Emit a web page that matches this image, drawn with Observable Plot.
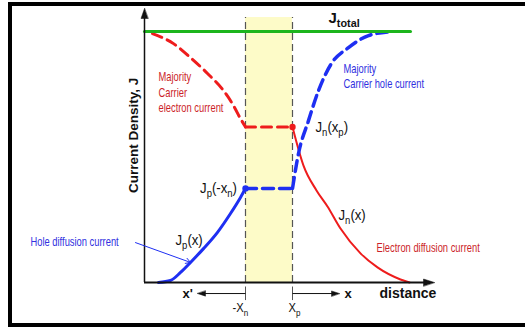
<!DOCTYPE html>
<html>
<head>
<meta charset="utf-8">
<script src="https://cdn.jsdelivr.net/npm/d3@7"></script>
<script src="https://cdn.jsdelivr.net/npm/@observablehq/plot@0.6"></script>
<style>
  body { margin: 0; background: #fff; }
</style>
</head>
<body>
<div id="chart"></div>
<script>
// Edges of the depletion region (distance units) and current levels (J units)
const xnEdge = 10.1;        // -xn
const xpEdge = 14.8;        // xp
const Jtotal = 10;
const JnDepletion = 6.2;    // Jn(xp)
const JpDepletion = 3.75;   // Jp(-xn)
const xEnd = 29;            // end of the distance axis
const yTop = 10.92;         // end of the current axis
const bandTop = 10.56;

// Majority carrier electron current, n side (dashed red)
const nMajorityX = [0.8, 2.9, 4.6, 6.3, 7.9, 8.9, 9.6, 10.1];
const nMajorityJ = [9.92, 9.52, 8.96, 8.33, 7.65, 7.05, 6.53, 6.2];
// Hole diffusion current, n side (solid blue)
const holeDiffX = [1.4, 2.6, 3.6, 4.6, 5.9, 7.3, 8.6, 9.6, 10.1];
const holeDiffJ = [0, 0.08, 0.4, 0.8, 1.35, 2.0, 2.75, 3.39, 3.75];
// Majority carrier hole current, p side (dashed blue)
const pMajorityX = [14.8, 15.4, 16.4, 17.4, 18.7, 20.4, 22.4, 24.7];
const pMajorityJ = [3.75, 5.14, 6.45, 7.65, 8.73, 9.36, 9.84, 10.0];
// Electron diffusion current, p side (solid red)
const elecDiffX = [14.8, 15.9, 17.2, 18.3, 19.6, 21.6, 23.3, 25.6, 26.5];
const elecDiffJ = [6.2, 4.66, 3.67, 3.03, 2.15, 1.16, 0.6, 0.12, 0.0];
// Total current line extent
const totalX = [0, 26.6];

const pts = (xs, js) => xs.map((x, i) => ({x, J: js[i]}));

const red = "#ee1c1c";
const redText = "#cc1f2a";
const blue = "#1e2ff2";
const blueText = "#3030e0";
const green = "#1db51d";
const ink = "#111";
const narrow = "'Liberation Sans Narrow', 'Liberation Sans', Arial, sans-serif";
const sans = "'Liberation Sans', Arial, sans-serif";

// Filled triangular arrowhead for the vector mark (tip at the anchor point)
const head = {
  draw(ctx, l, r) {
    ctx.moveTo(0, -l);
    ctx.lineTo(-r, 0);
    ctx.lineTo(r, 0);
    ctx.closePath();
  }
};

const dashedRed = {x: "x", y: "J", stroke: red, strokeWidth: 3, strokeDasharray: "10,6"};
const dashedBlue = {x: "x", y: "J", stroke: blue, strokeWidth: 3.5, strokeDasharray: "11,6"};

const chart = Plot.plot({
  width: 525,
  height: 330,
  marginLeft: 144,
  marginRight: 91,
  marginTop: 8,
  marginBottom: 48,
  x: {axis: null, domain: [0, xEnd]},
  y: {axis: null, domain: [0, yTop]},
  style: {background: "white", fontFamily: sans, overflow: "visible"},
  marks: [
    // depletion region
    Plot.rect([{x1: xnEdge, x2: xpEdge, y1: 0, y2: bandTop}],
      {x1: "x1", x2: "x2", y1: "y1", y2: "y2", fill: "#fdfbc8"}),
    Plot.ruleX([xnEdge, xpEdge], {y1: 0, y2: bandTop, stroke: "#555", strokeWidth: 1.2, strokeDasharray: "7,4"}),
    Plot.ruleX([xnEdge, xpEdge], {y1: -0.18, y2: -0.72, stroke: "#555", strokeWidth: 1}),

    // electron current
    Plot.line(pts(nMajorityX, nMajorityJ), {...dashedRed, curve: "monotone-x"}),
    Plot.line(pts([xnEdge, xpEdge], [JnDepletion, JnDepletion]), dashedRed),
    Plot.line(pts(elecDiffX, elecDiffJ), {x: "x", y: "J", stroke: red, strokeWidth: 2, curve: "monotone-x"}),

    // hole current
    Plot.line(pts(holeDiffX, holeDiffJ), {x: "x", y: "J", stroke: blue, strokeWidth: 3, curve: "monotone-x"}),
    Plot.line(pts([xnEdge, xpEdge], [JpDepletion, JpDepletion]), dashedBlue),
    Plot.line(pts(pMajorityX, pMajorityJ), {...dashedBlue, curve: "monotone-x"}),

    // total current
    Plot.line(pts(totalX, [Jtotal, Jtotal]), {x: "x", y: "J", stroke: green, strokeWidth: 3}),

    Plot.dot([{x: xpEdge, J: JnDepletion}], {x: "x", y: "J", r: 3.2, fill: red}),
    Plot.dot([{x: xnEdge, J: JpDepletion}], {x: "x", y: "J", r: 3.2, fill: blue}),

    // axes with arrowheads
    Plot.ruleX([0], {y1: 0, y2: yTop - 0.2, stroke: ink, strokeWidth: 1.5}),
    Plot.ruleY([0], {x1: 0, x2: xEnd - 0.5, stroke: ink, strokeWidth: 2}),
    Plot.vector([{x: 0, J: yTop, a: 0}], {x: "x", y: "J", rotate: "a", length: 10, r: 3.5, anchor: "end", shape: head, fill: ink, stroke: ink, strokeWidth: 0.5}),
    Plot.vector([{x: xEnd, J: 0, a: 90}], {x: "x", y: "J", rotate: "a", length: 11, r: 3.5, anchor: "end", shape: head, fill: ink, stroke: ink, strokeWidth: 0.5}),

    // x' and x direction arrows below the axis
    Plot.link([{x1: xnEdge, x2: 5.6, J: -0.44}, {x1: xpEdge, x2: 19.2, J: -0.44}],
      {x1: "x1", x2: "x2", y1: "J", y2: "J", stroke: ink, strokeWidth: 1}),
    Plot.vector([{x: 5.3, J: -0.44, a: -90}, {x: 19.5, J: -0.44, a: 90}],
      {x: "x", y: "J", rotate: "a", length: 8, r: 2.6, anchor: "end", shape: head, fill: ink, stroke: ink, strokeWidth: 0.5}),

    // pointer to the hole diffusion current
    Plot.arrow([{x1: -0.9, y1: 1.59, x2: 4.6, y2: 0.8}],
      {x1: "x1", y1: "y1", x2: "x2", y2: "y2", stroke: blue, strokeWidth: 1, headLength: 8}),

    // labels
    Plot.text(["Current Density, J"], {x: -1.05, y: 5.86, rotate: -90, fontSize: 13.5, fontWeight: "bold", fill: ink, fontFamily: sans}),
    Plot.text(["distance"], {x: 23.5, y: -0.44, textAnchor: "start", fontSize: 14, fontWeight: "bold", fill: ink, fontFamily: sans}),
    Plot.text(["x'"], {x: 3.8, y: -0.44, textAnchor: "start", fontSize: 13, fontWeight: "bold", fill: ink, fontFamily: sans}),
    Plot.text(["x"], {x: 20.0, y: -0.44, textAnchor: "start", fontSize: 13, fontWeight: "bold", fill: ink, fontFamily: sans}),
    Plot.text(["-X_n"], {x: 8.8, y: -1.0, textAnchor: "start", fontSize: 13, fill: ink, fontFamily: narrow}),
    Plot.text(["X_p"], {x: 14.4, y: -1.0, textAnchor: "start", fontSize: 13, fill: ink, fontFamily: narrow}),

    Plot.text(["J_total"], {x: 18.4, y: 10.52, textAnchor: "start", fontSize: 15, fontWeight: "bold", fill: ink, fontFamily: sans}),
    Plot.text(["J_n(x_p)"], {x: 17.1, y: 6.18, textAnchor: "start", fontSize: 15, fill: ink, fontFamily: narrow}),
    Plot.text(["J_p(-x_n)"], {x: 9.25, y: 3.75, textAnchor: "end", fontSize: 15, fill: ink, fontFamily: narrow}),
    Plot.text(["J_p(x)"], {x: 3.1, y: 1.67, textAnchor: "start", fontSize: 15, fill: ink, fontFamily: narrow}),
    Plot.text(["J_n(x)"], {x: 19.4, y: 2.67, textAnchor: "start", fontSize: 15, fill: ink, fontFamily: narrow}),

    Plot.text(["Majority\nCarrier\nelectron current"], {x: 1.4, y: 7.61, textAnchor: "start", lineHeight: 1.3, fontSize: 12, fill: redText, fontFamily: narrow}),
    Plot.text(["Majority\nCarrier hole current"], {x: 19.9, y: 8.23, textAnchor: "start", lineHeight: 1.2, fontSize: 12, fill: blueText, fontFamily: narrow}),
    Plot.text(["Hole diffusion current"], {x: -11.4, y: 1.59, textAnchor: "start", fontSize: 12, fill: blueText, fontFamily: narrow}),
    Plot.text(["Electron diffusion current"], {x: 23.2, y: 1.35, textAnchor: "start", fontSize: 12, fill: redText, fontFamily: narrow})
  ]
});

const svg = d3.select(chart);

// Turn "_sub" parts of labels into subscripts
svg.selectAll("text").each(function () {
  const t = this.textContent;
  if (!t.includes("_")) return;
  const parts = t.split(/_([A-Za-z]+)/);
  const el = d3.select(this);
  el.text(null);
  parts.forEach((p, i) => {
    if (!p) return;
    const span = el.append("tspan").text(p);
    if (i % 2 === 1) {
      span.attr("font-size", "72%").attr("dy", 4);
    } else if (i > 0) {
      span.attr("dy", -4);
    }
  });
});

// Condensed lettering for annotation labels: squeeze horizontally about the anchor
svg.selectAll("g[font-family*='Narrow'] text").each(function () {
  const size = +this.parentNode.getAttribute("font-size") || 12;
  const k = size <= 12 ? 0.78 : size <= 13 ? 0.86 : 0.88;
  const tr = this.getAttribute("transform");
  if (tr) {
    this.setAttribute("transform", `${tr} scale(${k},1)`);
  } else {
    const x = +this.getAttribute("x") || 0, y = +this.getAttribute("y") || 0;
    this.setAttribute("transform", `translate(${x},${y}) scale(${k},1) translate(${-x},${-y})`);
  }
});

// Page frame (left, top and bottom edges)
svg.append("path")
  .attr("d", "M525,4 H10 V325 H525")
  .attr("fill", "none")
  .attr("stroke", "#000")
  .attr("stroke-width", 4);

document.getElementById("chart").appendChild(chart);
</script>
</body>
</html>
